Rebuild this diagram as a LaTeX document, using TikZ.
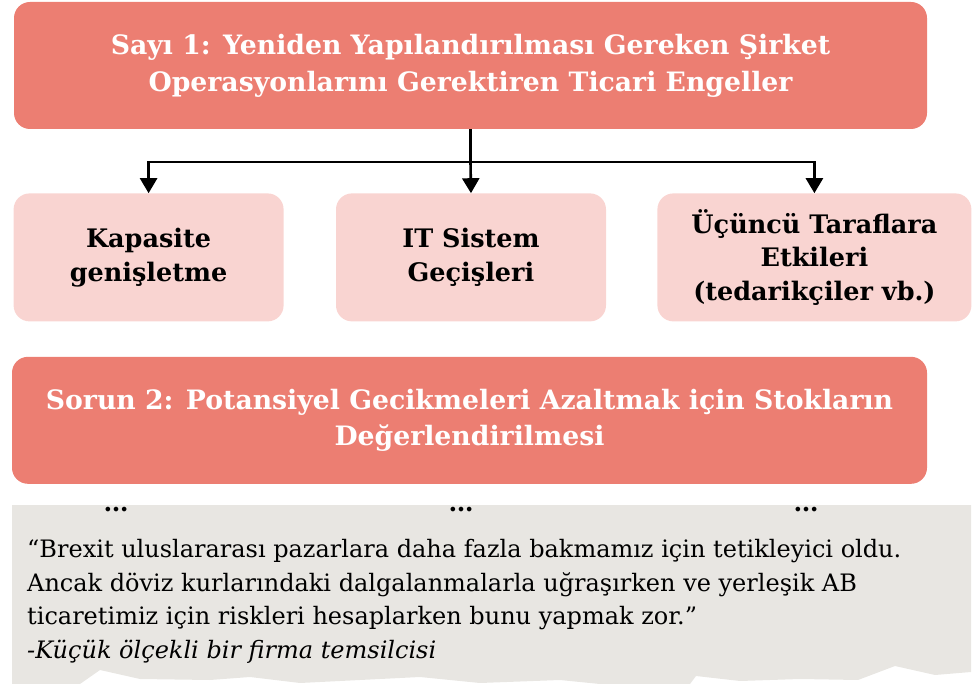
\documentclass[tikz,border=0pt]{standalone}
\usepackage{fontspec}
\setmainfont{DejaVu Serif}
\usepackage{tikz}
\usetikzlibrary{arrows.meta, positioning}
\definecolor{issuered}{RGB}{236, 126, 114}
\definecolor{issuepink}{RGB}{249, 212, 209}
\definecolor{quotegray}{RGB}{232, 230, 226}
\tikzset{
    issue/.style={rectangle, fill=issuered, rounded corners=16pt, minimum width=913pt, minimum height=127pt, align=center, text=white, font=\fontsize{26.7}{37}\selectfont\bfseries},
    effect/.style={rectangle, fill=issuepink, rounded corners=16pt, minimum width=270pt, minimum height=128pt, align=center, font=\fontsize{25.5}{33.5}\selectfont\bfseries},
    line/.style={draw, line width=2.6pt, black},
    arrow/.style={line, -{Triangle[length=15pt, width=17pt]}},
    dots/.style={font=\fontsize{25}{25}\selectfont\bfseries}
}

\begin{document}
\begin{tikzpicture}[x=1pt, y=-1pt]
    \useasboundingbox (0,0) rectangle (977,684);

    % Issue 1 and its effects
    \node[issue] (issueone) at (470.5,65.5) {Sayı 1: Yeniden Yapılandırılması Gereken Şirket\\ Operasyonlarını Gerektiren Ticari Engeller};
    \node[effect, below=64pt of issueone.south, anchor=north, xshift=0.5pt] (itsistem) {IT Sistem\\ Geçişleri};
    \node[effect, left=52pt of itsistem] (kapasite) {Kapasite\\ genişletme};
    \node[effect, right=51pt of itsistem, minimum width=314pt] (ucuncu) {Üçüncü Taraflara\\ Etkileri\\ (tedarikçiler vb.)};

    \coordinate (split) at ([yshift=-33pt]issueone.south);
    \draw[line] (issueone.south) -- (split);
    \draw[arrow] (split) -| (kapasite.north);
    \draw[arrow] (split) -- (itsistem.north);
    \draw[arrow] (split) -| (ucuncu.north);

    % Issue 2
    \node[issue, minimum width=915pt, font=\fontsize{26.7}{36}\selectfont\bfseries, below=35pt of itsistem.south, anchor=north, xshift=-1.5pt] (sorun) {Sorun 2: Potansiyel Gecikmeleri Azaltmak için Stokların\\ Değerlendirilmesi};

    % Torn quote card
    \fill[quotegray] (12,505) -- (971,505) -- (971,672) -- (935,675) -- (895,666) -- (858,680) -- (800,679)
        -- (740,681) -- (696,676) -- (690,684) -- (600,684) -- (560,680) -- (480,683) -- (420,677)
        -- (380,679) -- (300,683) -- (250,677) -- (210,680) -- (140,679) -- (100,670) -- (80,684) -- (12,684) -- cycle;
    \node[dots] (dotsa) at (116,510) {…};
    \node[dots] (dotsb) at (461,510) {…};
    \node[dots] (dotsc) at (806,510) {…};
    \node[anchor=north west, inner sep=0pt, align=left, font=\fontsize{24}{33.7}\selectfont] (quote) at (27,539)
        {“Brexit uluslararası pazarlara daha fazla bakmamız için tetikleyici oldu.\\
        Ancak döviz kurlarındaki dalgalanmalarla uğraşırken ve yerleşik AB\\
        ticaretimiz için riskleri hesaplarken bunu yapmak zor.”\\
        \textit{-Küçük ölçekli bir firma temsilcisi}};

\end{tikzpicture}
\end{document}
